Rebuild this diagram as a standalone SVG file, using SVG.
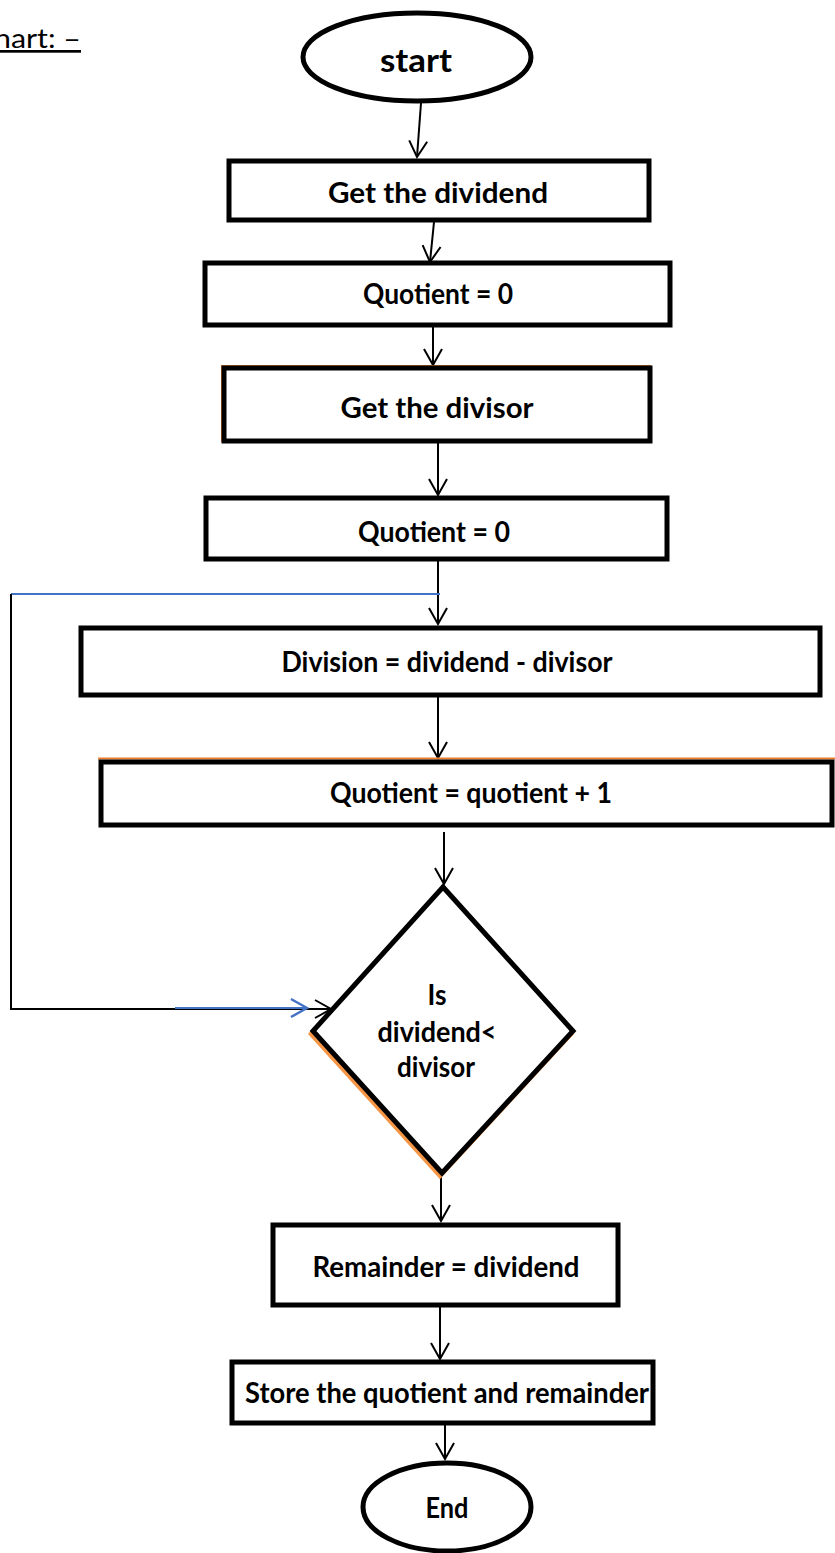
<svg xmlns="http://www.w3.org/2000/svg" width="835" height="1553" viewBox="0 0 835 1553">
<style>
.box{fill:#fff;stroke:#000;stroke-width:5}
.t{font-family:Lato,"Liberation Sans",sans-serif;font-weight:700;font-size:28px;fill:#000;text-anchor:middle}
.c{fill:none;stroke:#000;stroke-width:2}
.cb{fill:none;stroke:#4472C4;stroke-width:2}
.title{font-family:Lato,"Liberation Sans",sans-serif;font-size:27px;fill:#000;text-decoration:underline}
</style>
<defs>
<marker id="ah" viewBox="-18 -11 20 22" refX="0" refY="0" markerWidth="20" markerHeight="22" markerUnits="userSpaceOnUse" orient="auto">
<path d="M-16,-9 L0,0 L-16,9" fill="none" stroke="#000" stroke-width="2"/>
</marker>
<marker id="ahb" viewBox="-18 -11 20 22" refX="0" refY="0" markerWidth="20" markerHeight="22" markerUnits="userSpaceOnUse" orient="auto">
<path d="M-16,-9 L0,0 L-16,9" fill="none" stroke="#4472C4" stroke-width="2.5"/>
</marker>
</defs>
<rect width="835" height="1553" fill="#fff"/>
<text class="title" x="-6" y="48" textLength="87" lengthAdjust="spacingAndGlyphs">hart: –</text>

<g id="connectors">
<path class="c" d="M421,103 L417,157" marker-end="url(#ah)"/>
<path class="c" d="M434,222 L430,262" marker-end="url(#ah)"/>
<path class="c" d="M433,312 L433,365" marker-end="url(#ah)"/>
<path class="c" d="M438,443 L438,495" marker-end="url(#ah)"/>
<path class="c" d="M438,559 L438,624" marker-end="url(#ah)"/>
<path class="c" d="M438,697 L438,758" marker-end="url(#ah)"/>
<path class="c" d="M444,832 L444,884" marker-end="url(#ah)"/>
<path class="c" d="M441,1173 L441,1221" marker-end="url(#ah)"/>
<path class="c" d="M440,1297 L440,1359" marker-end="url(#ah)"/>
<path class="c" d="M445,1425 L445,1459" marker-end="url(#ah)"/>
<path class="cb" d="M440,594 H11"/>
<path class="c" d="M11,594 V1009 H331" marker-end="url(#ah)"/>
<path class="cb" d="M175,1008 H307" marker-end="url(#ahb)"/>
</g>

<g id="start">
<ellipse class="box" cx="417" cy="57" rx="114" ry="44"/>
<text class="t" x="416" y="72" style="font-size:33px" textLength="72" lengthAdjust="spacingAndGlyphs">start</text>
</g>
<g id="get-dividend">
<rect class="box" x="229" y="161" width="420" height="59"/>
<text class="t" x="438" y="203" textLength="220" lengthAdjust="spacingAndGlyphs">Get the dividend</text>
</g>
<g id="quotient-0-a">
<rect class="box" x="205" y="263" width="465" height="62"/>
<text class="t" x="438" y="304" textLength="150" lengthAdjust="spacingAndGlyphs">Quotient = 0</text>
</g>
<g id="get-divisor">
<rect x="222" y="366" width="428" height="75" fill="none" stroke="#ED7D31" stroke-width="2"/>
<rect class="box" x="224" y="368" width="426" height="73"/>
<text class="t" x="437" y="418" textLength="193" lengthAdjust="spacingAndGlyphs">Get the divisor</text>
</g>
<g id="quotient-0-b">
<rect class="box" x="206" y="498" width="461" height="61"/>
<text class="t" x="434" y="542" textLength="152" lengthAdjust="spacingAndGlyphs">Quotient = 0</text>
</g>
<g id="division">
<rect class="box" x="81" y="628" width="739" height="67"/>
<text class="t" x="447" y="672" textLength="331" lengthAdjust="spacingAndGlyphs">Division = dividend - divisor</text>
</g>
<g id="quotient-inc">
<line x1="98" y1="758.5" x2="835" y2="758.5" stroke="#ED7D31" stroke-width="2"/>
<rect class="box" x="101" y="762" width="731" height="63"/>
<text class="t" x="471" y="803" textLength="282" lengthAdjust="spacingAndGlyphs">Quotient = quotient + 1</text>
</g>
<g id="decision">
<polygon points="441,890 571,1034 440,1176 311,1034" fill="none" stroke="#F79646" stroke-width="4.5"/>
<polygon class="box" points="443,887 573,1031 442,1173 313,1031"/>
<text class="t" x="437" y="1005" textLength="19" lengthAdjust="spacingAndGlyphs">Is</text>
<text class="t" x="437" y="1042" textLength="119" lengthAdjust="spacingAndGlyphs">dividend&lt;</text>
<text class="t" x="436" y="1077" textLength="78" lengthAdjust="spacingAndGlyphs">divisor</text>
</g>
<g id="remainder">
<rect class="box" x="273" y="1225" width="345" height="80"/>
<text class="t" x="446" y="1277" textLength="267" lengthAdjust="spacingAndGlyphs">Remainder = dividend</text>
</g>
<g id="store">
<rect class="box" x="232" y="1362" width="421" height="61"/>
<text class="t" x="447" y="1403" textLength="404" lengthAdjust="spacingAndGlyphs">Store the quotient and remainder</text>
</g>
<g id="end">
<ellipse class="box" cx="447" cy="1507" rx="84" ry="44"/>
<text class="t" x="447" y="1518" textLength="43" lengthAdjust="spacingAndGlyphs">End</text>
</g>
</svg>
